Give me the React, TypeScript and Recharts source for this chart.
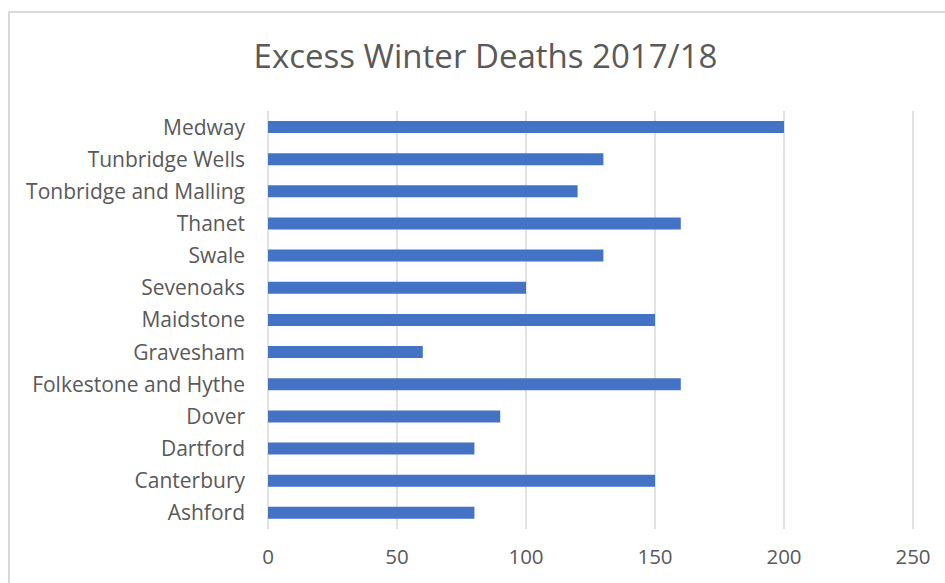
import React from 'react';
import { BarChart, Bar, XAxis, YAxis, CartesianGrid } from 'recharts';

const districts = [
  'Medway',
  'Tunbridge Wells',
  'Tonbridge and Malling',
  'Thanet',
  'Swale',
  'Sevenoaks',
  'Maidstone',
  'Gravesham',
  'Folkestone and Hythe',
  'Dover',
  'Dartford',
  'Canterbury',
  'Ashford',
];

const deaths = [200, 130, 120, 160, 130, 100, 150, 60, 160, 90, 80, 150, 80];

const xTicks = [0, 50, 100, 150, 200, 250];

const data = districts.map((name, i) => ({ name, deaths: deaths[i] }));

const FONT = '"Open Sans", sans-serif';
const TEXT = '#595959';

export default function App() {
  return (
    <div style={{ position: 'absolute', left: 0, top: 0, width: 945, height: 583, overflow: 'hidden', background: '#fff' }}>
      {/* chart border, runs off the right and bottom edges */}
      <div
        style={{
          position: 'absolute',
          left: 8,
          top: 11,
          width: 1100,
          height: 1100,
          border: '2px solid #d9d9d9',
          boxSizing: 'border-box',
        }}
      />
      <svg width={945} height={583} style={{ position: 'absolute', left: 0, top: 0 }}>
        <text x={485.5} y={68} textAnchor="middle" fontFamily={FONT} fontSize={33} fill={TEXT}>
          Excess Winter Deaths 2017/18
        </text>
      </svg>
      <div style={{ position: 'absolute', left: 0, top: 0 }}>
        <BarChart
          width={945}
          height={583}
          data={data}
          layout="vertical"
          margin={{ top: 111, right: 32, bottom: 24, left: 10 }}
        >
          <CartesianGrid horizontal={false} stroke="#d9d9d9" strokeWidth={1.5} />
          <XAxis
            type="number"
            domain={[0, 250]}
            ticks={xTicks}
            axisLine={false}
            tickLine={false}
            tickSize={0}
            tickMargin={20}
            height={30}
            tick={{ fill: TEXT, fontSize: 20.5, fontFamily: FONT }}
          />
          <YAxis
            type="category"
            dataKey="name"
            width={258}
            axisLine={false}
            tickLine={false}
            tickSize={0}
            tickMargin={23}
            interval={0}
            tick={{ fill: TEXT, fontSize: 21, fontFamily: FONT }}
          />
          <Bar dataKey="deaths" fill="#4472C4" barSize={12} isAnimationActive={false} />
        </BarChart>
      </div>
    </div>
  );
}
